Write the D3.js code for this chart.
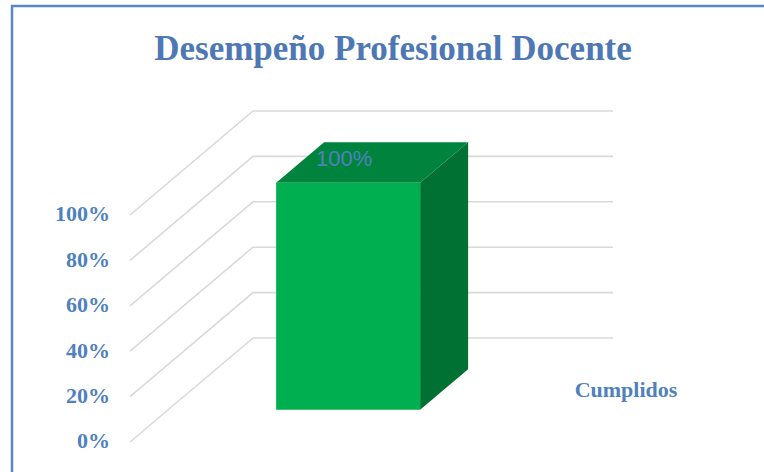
<!DOCTYPE html>
<html>
<head>
<meta charset="utf-8">
<script src="https://cdn.jsdelivr.net/npm/d3@7"></script>
<style>
  html, body { margin: 0; padding: 0; background: #fff; }
  svg { display: block; }
</style>
</head>
<body>
<div id="chart"></div>
<script>
/* ── Data ─────────────────────────────────────────────── */
const title = 'Desempeño Profesional Docente';
const categories = ['Cumplidos'];
const values = [1.0];
const tickValues = [0, 0.2, 0.4, 0.6, 0.8, 1.0];

/* ── Layout ───────────────────────────────────────────── */
const W = 764, H = 472;
const originX = 130, originY = 442;   // front-left corner of floor
const plotW = 360, plotH = 227;
const depthVec = { x: 123, y: -104 }; // oblique offset of full depth
const barDepth = [0.31, 0.70];

const COLORS = {
  front: '#00b050',
  top: '#00843d',
  side: '#007033',
  grid: '#d9d9d9',
  text: '#4f81bd',
  title: '#4d78b4',
  border: '#5b87c5',
};

const svg = d3.select('#chart').append('svg')
  .attr('width', W).attr('height', H);

// chart frame (cropped on right/bottom)
svg.append('path')
  .attr('d', 'M12,' + H + ' L12,6 L' + W + ',6')
  .attr('fill', 'none')
  .attr('stroke', COLORS.border)
  .attr('stroke-width', 2.5);

const x = d3.scaleBand().domain(categories).range([0, plotW])
  .paddingInner(0).paddingOuter(0.75);
const y = d3.scaleLinear().domain([0, 1]).range([0, plotH]);

// oblique 3D projection: category offset, value, depth fraction
function project(cx, v, d) {
  return [originX + cx + depthVec.x * d, originY - y(v) + depthVec.y * d];
}

/* ── Gridlines on side and back walls ─────────────────── */
const grid = svg.append('g');
tickValues.forEach(function (t) {
  const p0 = project(0, t, 0), p1 = project(0, t, 1), p2 = project(plotW, t, 1);
  grid.append('path')
    .attr('d', d3.line()([p0, p1, p2]))
    .attr('fill', 'none')
    .attr('stroke', COLORS.grid)
    .attr('stroke-width', 1.6);
});

/* ── Value axis labels ────────────────────────────────── */
const fmt = d3.format('.0%');
svg.append('g').selectAll('text')
  .data(tickValues)
  .join('text')
  .attr('x', originX - 20)
  .attr('y', function (d) { return project(0, d, 0)[1] - 1; })
  .attr('dy', '0.34em')
  .attr('text-anchor', 'end')
  .attr('font-family', '"Liberation Serif", serif')
  .attr('font-weight', 'bold')
  .attr('font-size', 22)
  .attr('fill', COLORS.text)
  .text(fmt);

/* ── Bars ─────────────────────────────────────────────── */
const bars = svg.append('g');
categories.forEach(function (c, i) {
  const x0 = x(c), x1 = x(c) + x.bandwidth();
  const v = values[i];
  const d0 = barDepth[0], d1 = barDepth[1];
  const line = d3.line();

  // right side
  bars.append('path')
    .attr('d', line([project(x1, 0, d0), project(x1, 0, d1), project(x1, v, d1), project(x1, v, d0)]) + 'Z')
    .attr('fill', COLORS.side);
  // top
  bars.append('path')
    .attr('d', line([project(x0, v, d0), project(x0, v, d1), project(x1, v, d1), project(x1, v, d0)]) + 'Z')
    .attr('fill', COLORS.top);
  // front
  bars.append('path')
    .attr('d', line([project(x0, 0, d0), project(x1, 0, d0), project(x1, v, d0), project(x0, v, d0)]) + 'Z')
    .attr('fill', COLORS.front);

  // data label
  const lp = project((x0 + x1) / 2, v, d0);
  bars.append('text')
    .attr('x', lp[0] - 4)
    .attr('y', lp[1] - 17)
    .attr('text-anchor', 'middle')
    .attr('font-family', '"Liberation Sans", sans-serif')
    .attr('font-size', 22)
    .attr('fill', COLORS.text)
    .text(fmt(v));

  // category label
  const cp = project(plotW, 0, 0);
  svg.append('text')
    .attr('x', cp[0] + 136)
    .attr('y', cp[1] - 45)
    .attr('text-anchor', 'middle')
    .attr('font-family', '"Liberation Serif", serif')
    .attr('font-weight', 'bold')
    .attr('font-size', 22)
    .attr('fill', COLORS.text)
    .text(c);
});

/* ── Title ────────────────────────────────────────────── */
svg.append('text')
  .attr('x', 393)
  .attr('y', 60)
  .attr('text-anchor', 'middle')
  .attr('font-family', '"Liberation Serif", serif')
  .attr('font-weight', 'bold')
  .attr('font-size', 35)
  .attr('fill', COLORS.title)
  .text(title);
</script>
</body>
</html>
